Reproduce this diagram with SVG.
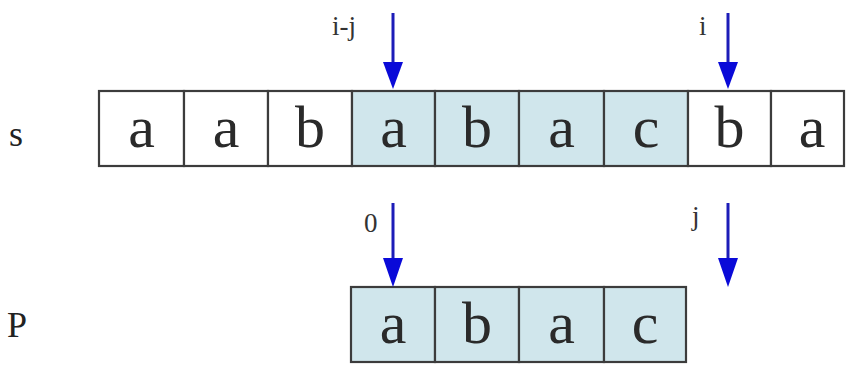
<svg xmlns="http://www.w3.org/2000/svg" width="846" height="365" viewBox="0 0 846 365">
<defs>
<style>
.cell{fill:#ffffff;stroke:#3c3c3c;stroke-width:2.2}
.hl{fill:#d0e6ec}
.ch{font-family:"Liberation Serif","DejaVu Serif",serif;font-size:60px;fill:#2a2a2a;text-anchor:middle}
.lbl{font-family:"Liberation Serif","DejaVu Serif",serif;font-size:27px;fill:#333}
.big{font-family:"Liberation Serif","DejaVu Serif",serif;font-size:36px;fill:#222}
.arr{stroke:#1c1cb8;stroke-width:3;fill:none}
.head{fill:#0a0ad8}
</style>
</defs>
<rect width="846" height="365" fill="#ffffff"/>
<text class="big" x="9" y="146">s</text>
<text class="big" x="7" y="337">P</text>
<g id="S">
<g id="s0"><rect class="cell" x="99" y="91" width="85" height="75"/><text class="ch" x="141.5" y="147">a</text></g>
<g id="s1"><rect class="cell" x="184" y="91" width="84" height="75"/><text class="ch" x="226" y="147">a</text></g>
<g id="s2"><rect class="cell" x="268" y="91" width="84" height="75"/><text class="ch" x="310" y="147">b</text></g>
<g id="s3"><rect class="cell hl" x="352" y="91" width="83" height="75"/><text class="ch" x="393.5" y="147">a</text></g>
<g id="s4"><rect class="cell hl" x="435" y="91" width="84" height="75"/><text class="ch" x="477" y="147">b</text></g>
<g id="s5"><rect class="cell hl" x="519" y="91" width="85" height="75"/><text class="ch" x="561.5" y="147">a</text></g>
<g id="s6"><rect class="cell hl" x="604" y="91" width="84" height="75"/><text class="ch" x="646" y="147">c</text></g>
<g id="s7"><rect class="cell" x="688" y="91" width="83" height="75"/><text class="ch" x="729.5" y="147">b</text></g>
<g id="s8"><rect class="cell" x="771" y="91" width="73" height="75"/><text class="ch" x="812" y="147">a</text></g>
</g>
<g id="P">
<g id="p0"><rect class="cell hl" x="351" y="287" width="84" height="75"/><text class="ch" x="393" y="343">a</text></g>
<g id="p1"><rect class="cell hl" x="435" y="287" width="84" height="75"/><text class="ch" x="477" y="343">b</text></g>
<g id="p2"><rect class="cell hl" x="519" y="287" width="85" height="75"/><text class="ch" x="561.5" y="343">a</text></g>
<g id="p3"><rect class="cell hl" x="604" y="287" width="82" height="75"/><text class="ch" x="645" y="343">c</text></g>
</g>
<g id="labels">
<text class="lbl" x="332" y="35">i-j</text>
<text class="lbl" x="699" y="35">i</text>
<text class="lbl" x="364" y="232">0</text>
<text class="lbl" x="692" y="225">j</text>
</g>
<g id="connectors">
<line class="arr" x1="393" y1="13" x2="393" y2="64"/>
<polygon class="head" points="383,62 403,62 393,89"/>
<line class="arr" x1="728" y1="13" x2="728" y2="64"/>
<polygon class="head" points="718,62 738,62 728,89"/>
<line class="arr" x1="393" y1="203" x2="393" y2="260"/>
<polygon class="head" points="383,258 403,258 393,287"/>
<line class="arr" x1="728" y1="203" x2="728" y2="260"/>
<polygon class="head" points="718,258 738,258 728,287"/>
</g>
</svg>
